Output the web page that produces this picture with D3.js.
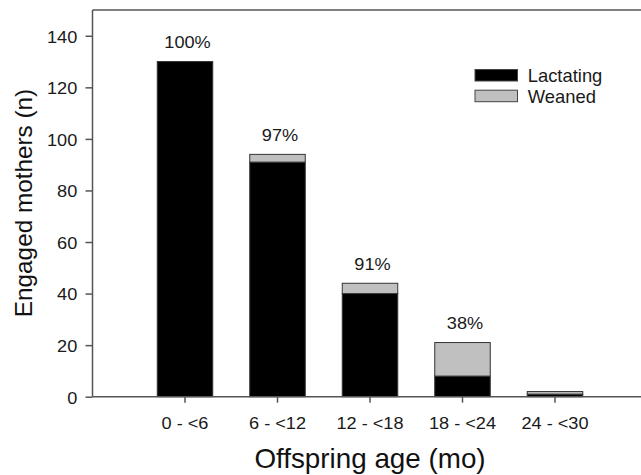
<!DOCTYPE html>
<html>
<head>
<meta charset="utf-8">
<script src="https://cdn.jsdelivr.net/npm/d3@7"></script>
<style>
  html, body { margin: 0; padding: 0; background: #fff; }
  svg { display: block; font-family: "Liberation Sans", Arial, sans-serif; }
</style>
</head>
<body>
<svg id="chart" width="641" height="475"></svg>
<script>
const categories = ["0 - <6", "6 - <12", "12 - <18", "18 - <24", "24 - <30"];
const lactating = [130, 91, 40, 8, 1];
const weaned = [0, 3, 4, 13, 1];
const pctLabels = ["100%", "97%", "91%", "38%", ""];
const yTicks = [0, 20, 40, 60, 80, 100, 120, 140];
const seriesNames = ["Lactating", "Weaned"];
const seriesColors = ["#000000", "#c0c0c0"];

(function () {
const svg = d3.select("#chart");
const W = 641;
const plotLeft = 92.5, plotTop = 10, plotBottom = 396.7;
const SX = 1.05; // slight horizontal text stretch seen in reference
const FS = 17.3;

const x = d3.scaleBand().domain(categories).range([138.75, 601.25]).paddingInner(0.4).paddingOuter(0.2);
const y = d3.scaleLinear().domain([0, 150]).range([plotBottom, plotTop]);

const rows = categories.map((c, i) => ({ cat: c, Lactating: lactating[i], Weaned: weaned[i] }));
const stacked = d3.stack().keys(seriesNames)(rows);

// bars
svg.append("g").selectAll("g").data(stacked).join("g")
  .attr("fill", (d, i) => seriesColors[i])
  .selectAll("rect").data(d => d.filter(p => p[1] - p[0] > 0)).join("rect")
  .attr("x", d => x(d.data.cat))
  .attr("width", x.bandwidth())
  .attr("y", d => y(d[1]))
  .attr("height", d => y(d[0]) - y(d[1]))
  .attr("stroke", "#333")
  .attr("stroke-width", 1);

// frame lines (left, top, bottom)
const frame = svg.append("g").attr("stroke", "#555").attr("stroke-width", 1.5).attr("fill", "none");
frame.append("line").attr("x1", plotLeft).attr("x2", plotLeft).attr("y1", plotTop).attr("y2", plotBottom);
frame.append("line").attr("x1", plotLeft).attr("x2", W).attr("y1", plotTop).attr("y2", plotTop);
frame.append("line").attr("x1", plotLeft).attr("x2", W).attr("y1", plotBottom).attr("y2", plotBottom);

// y axis
const yAxis = svg.append("g").attr("transform", `translate(${plotLeft},0)`)
  .call(d3.axisLeft(y).tickValues(yTicks).tickSize(7).tickSizeOuter(0).tickPadding(8));
yAxis.select(".domain").remove();
yAxis.selectAll(".tick line").attr("stroke", "#555").attr("stroke-width", 1.5);
yAxis.selectAll(".tick text").attr("font-size", FS).attr("fill", "#1a1a1a")
  .attr("font-family", "Liberation Sans, Arial, sans-serif")
  .attr("transform", `scale(${SX},1)`)
  .attr("x", -15.2 / SX)
  .attr("dy", "0.37em");

// x axis
const xAxis = svg.append("g").attr("transform", `translate(0,${plotBottom})`)
  .call(d3.axisBottom(x).tickSize(6).tickSizeOuter(0).tickPadding(14.3));
xAxis.select(".domain").remove();
xAxis.selectAll(".tick line").attr("stroke", "#555").attr("stroke-width", 1.5);
xAxis.selectAll(".tick text").attr("font-size", FS).attr("fill", "#1a1a1a")
  .attr("font-family", "Liberation Sans, Arial, sans-serif")
  .attr("transform", `scale(${SX},1)`);

// percent labels
svg.append("g").selectAll("text").data(rows).join("text")
  .attr("transform", d => `translate(${x(d.cat) + x.bandwidth() / 2 + 2.5},${y(d.Lactating + d.Weaned) - 13.5}) scale(${SX},1)`)
  .attr("text-anchor", "middle")
  .attr("font-size", FS)
  .attr("fill", "#1a1a1a")
  .text((d, i) => pctLabels[i]);

// axis titles
svg.append("text")
  .attr("transform", `translate(370,467.5)`)
  .attr("text-anchor", "middle")
  .attr("font-size", 27.8)
  .attr("fill", "#111")
  .text("Offspring age (mo)");

svg.append("text")
  .attr("transform", `translate(31.5,203) rotate(-90)`)
  .attr("text-anchor", "middle")
  .attr("font-size", 24.3)
  .attr("fill", "#111")
  .text("Engaged mothers (n)");

// legend
const legend = svg.append("g");
seriesNames.forEach((name, i) => {
  const yy = 69.5 + i * 20.7;
  legend.append("rect").attr("x", 475).attr("y", yy).attr("width", 42.5).attr("height", 11.5)
    .attr("fill", seriesColors[i]).attr("stroke", "#444").attr("stroke-width", 1);
  legend.append("text")
    .attr("transform", `translate(527.7,${yy + 12.3})`)
    .attr("font-size", 18.4).attr("fill", "#1a1a1a")
    .text(name);
});
})();
</script>
</body>
</html>
